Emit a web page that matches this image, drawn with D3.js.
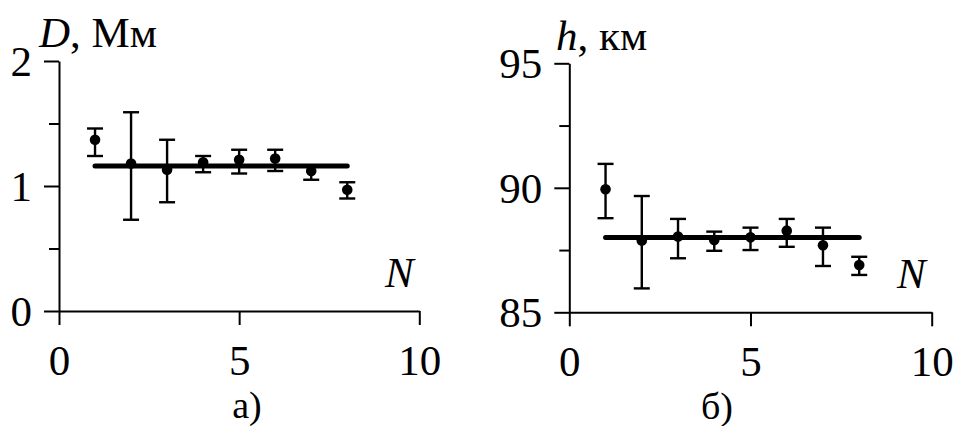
<!DOCTYPE html>
<html>
<head>
<meta charset="utf-8">
<script src="https://cdn.jsdelivr.net/npm/d3@7"></script>
<style>
  html, body { margin: 0; padding: 0; background: #fff; }
</style>
</head>
<body>
<svg id="chart" width="955" height="426" font-family="Liberation Serif"></svg>
<script>
// Measurement number N
const N = [1, 2, 3, 4, 5, 6, 7, 8];

// Panel a: D, Mm
const dValues = [1.37, 1.18, 1.13, 1.19, 1.21, 1.22, 1.12, 0.97];
const dLow    = [1.24, 0.73, 0.87, 1.11, 1.10, 1.12, 1.05, 0.90];
const dHigh   = [1.46, 1.59, 1.37, 1.24, 1.29, 1.29, 1.16, 1.03];
const dMean   = 1.16;
const dMajorTicks = [0, 1, 2];
const dMinorTicks = [0.5, 1.5];

// Panel b: h, km
const hValues = [89.94, 87.88, 88.04, 87.90, 88.01, 88.28, 87.69, 86.90];
const hLow    = [88.78, 85.96, 87.17, 87.47, 87.50, 87.63, 86.86, 86.50];
const hHigh   = [90.96, 89.67, 88.75, 88.24, 88.40, 88.75, 88.40, 87.23];
const hMean   = 88.0;
const hMajorTicks = [85, 90, 95];
const hMinorTicks = [87.5, 92.5];

const xTicks = [0, 5, 10];

const FONT = "Liberation Serif";
const svg = d3.select("#chart");

function serif(sel, size) {
  return sel.attr("font-family", FONT).attr("style", `font-family:'${FONT}'; font-size:${size}px`);
}

function panel(opts) {
  const g = svg.append("g");
  const x = d3.scaleLinear().domain([0, 10]).range([opts.x0, opts.x1]);
  const y = d3.scaleLinear().domain(opts.yDomain).range([opts.y0, opts.y1]);

  // x axis
  g.append("g")
    .attr("transform", `translate(0,${opts.y0})`)
    .call(d3.axisBottom(x).tickValues(xTicks).tickSize(14).tickSizeOuter(0).tickPadding(19));
  // y axis, major ticks with labels
  const yAxis = g.append("g")
    .attr("transform", `translate(${opts.x0},0)`)
    .call(d3.axisLeft(y).tickValues(opts.major).tickSize(15).tickSizeOuter(0).tickPadding(12)
      .tickFormat(d3.format("d")));
  // y axis, minor ticks
  g.append("g")
    .attr("transform", `translate(${opts.x0},0)`)
    .call(d3.axisLeft(y).tickValues(opts.minor).tickSize(10).tickFormat(""))
    .select(".domain").remove();

  g.selectAll("g").attr("font-family", FONT);
  g.selectAll(".domain, .tick line").attr("stroke", "#000").attr("stroke-width", 2);
  serif(g.selectAll(".tick text"), 43).attr("fill", "#000");
  yAxis.selectAll(".tick text").attr("dy", "0.34em");

  // error bars
  const capHalf = 8;
  const bars = g.append("g").attr("stroke", "#000").attr("stroke-width", 2.4).attr("fill", "none");
  N.forEach((n, i) => {
    const cx = x(n);
    bars.append("line").attr("x1", cx).attr("x2", cx).attr("y1", y(opts.low[i])).attr("y2", y(opts.high[i]));
    bars.append("line").attr("x1", cx - capHalf).attr("x2", cx + capHalf).attr("y1", y(opts.low[i])).attr("y2", y(opts.low[i]));
    bars.append("line").attr("x1", cx - capHalf).attr("x2", cx + capHalf).attr("y1", y(opts.high[i])).attr("y2", y(opts.high[i]));
  });

  // mean level
  g.append("line")
    .attr("x1", x(N[0])).attr("x2", x(N[N.length - 1]))
    .attr("y1", y(opts.mean)).attr("y2", y(opts.mean))
    .attr("stroke", "#000").attr("stroke-width", 5).attr("stroke-linecap", "round");

  // points
  g.append("g").selectAll("circle").data(opts.values).join("circle")
    .attr("cx", (d, i) => x(N[i]))
    .attr("cy", d => y(d))
    .attr("r", 5.3)
    .attr("fill", "#000");

  // axis titles
  const t = serif(g.append("text"), 43).attr("x", opts.titleX).attr("y", opts.titleY);
  t.append("tspan").attr("font-style", "italic").text(opts.sym);
  t.append("tspan").text(opts.unit);

  serif(g.append("text"), 43).attr("x", opts.nX).attr("y", opts.nY)
    .attr("font-style", "italic").text("N");

  serif(g.append("text"), 38).attr("x", opts.capX).attr("y", opts.capY)
    .attr("text-anchor", "middle").text(opts.caption);
}

panel({
  x0: 59, x1: 419.3, y0: 311, y1: 61, yDomain: [0, 2],
  major: dMajorTicks, minor: dMinorTicks,
  values: dValues, low: dLow, high: dHigh, mean: dMean,
  sym: "D", unit: ", Мм", titleX: 39, titleY: 47,
  nX: 385, nY: 287, caption: "а)", capX: 247, capY: 418
});

panel({
  x0: 569.3, x1: 931.7, y0: 312.3, y1: 63.3, yDomain: [85, 95],
  major: hMajorTicks, minor: hMinorTicks,
  values: hValues, low: hLow, high: hHigh, mean: hMean,
  sym: "h", unit: ", км", titleX: 556, titleY: 50,
  nX: 897, nY: 288, caption: "б)", capX: 717, capY: 419
});
</script>
</body>
</html>
